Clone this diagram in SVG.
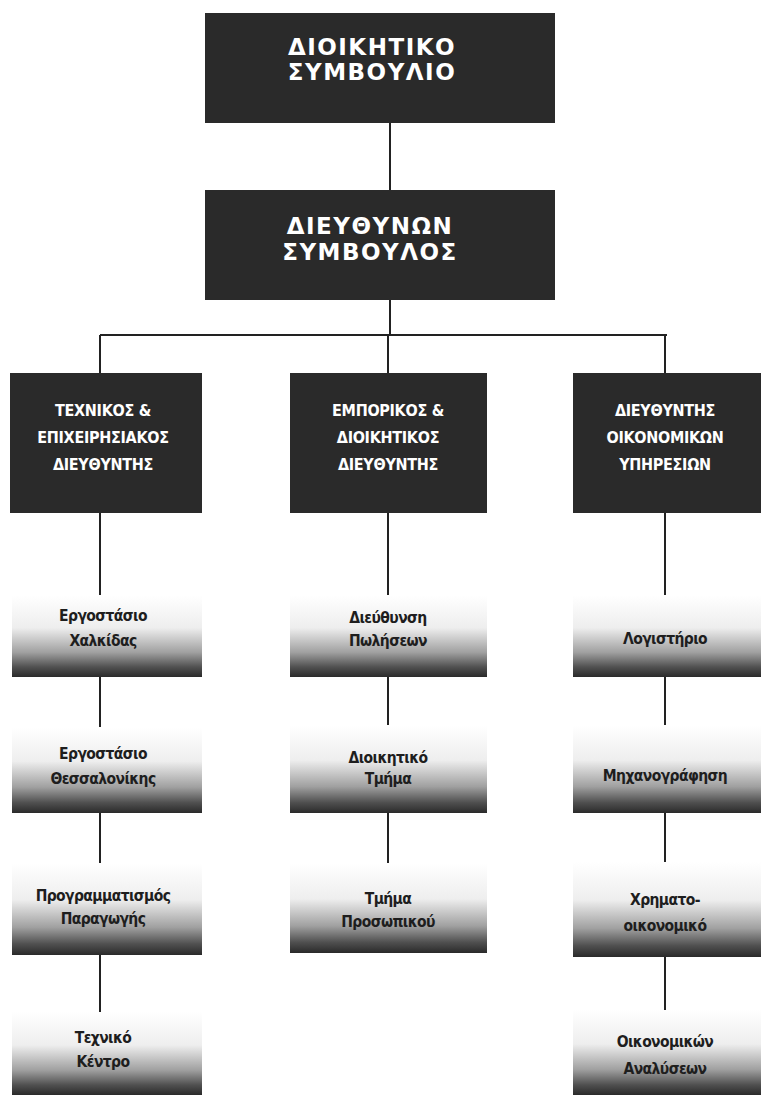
<svg xmlns="http://www.w3.org/2000/svg" width="761" height="1101" viewBox="0 0 761 1101">
<style>
.dark{fill:#2a2a2a}
.top{fill:#fff;font-family:"DejaVu Sans","Liberation Sans",sans-serif;font-weight:bold;font-size:23px;letter-spacing:1.5px;text-anchor:middle}
.mid{fill:#fff;font-family:"DejaVu Sans Condensed","DejaVu Sans","Liberation Sans",sans-serif;font-weight:bold;font-size:16px;letter-spacing:-0.3px;text-anchor:middle}
.low{fill:url(#g)}
.lt{fill:#1e1e1e;font-family:"DejaVu Sans Condensed","DejaVu Sans","Liberation Sans",sans-serif;font-weight:bold;font-size:15.5px;letter-spacing:-0.6px;text-anchor:middle}
.c{stroke:#222;stroke-width:2;fill:none}
</style>
<defs>
<linearGradient id="g" x1="0" y1="0" x2="0" y2="1">
<stop offset="0" stop-color="#ffffff"/>
<stop offset="0.4" stop-color="#eeeeee"/>
<stop offset="0.7" stop-color="#a0a0a0"/>
<stop offset="0.88" stop-color="#505050"/>
<stop offset="1" stop-color="#2a2a2a"/>
</linearGradient>
</defs>
<rect width="761" height="1101" fill="#fff"/>
<g id="connectors" class="c">
<path d="M390 123V190M390 300V335M100 335H667M100 335V373M388 335V373M665 335V373"/>
<path d="M100 512V595M388 512V595M665 512V595"/>
<path d="M100 677V727M100 813V863M100 955V1012"/>
<path d="M388 677V725M388 813V863"/>
<path d="M665 677V725M665 813V862M665 957V1010"/>
</g>
<g id="board"><rect class="dark" x="205" y="13" width="350" height="110"/>
<text class="top" x="372" y="55">ΔΙΟΙΚΗΤΙΚΟ</text><text class="top" x="372" y="80">ΣΥΜΒΟΥΛΙΟ</text></g>
<g id="ceo"><rect class="dark" x="205" y="190" width="350" height="110"/>
<text class="top" x="370" y="234">ΔΙΕΥΘΥΝΩΝ</text><text class="top" x="370" y="260">ΣΥΜΒΟΥΛΟΣ</text></g>
<g id="tech"><rect class="dark" x="10" y="373" width="192" height="140"/>
<text class="mid" x="103" y="416">ΤΕΧΝΙΚΟΣ &amp;</text><text class="mid" x="103" y="443">ΕΠΙΧΕΙΡΗΣΙΑΚΟΣ</text><text class="mid" x="103" y="470">ΔΙΕΥΘΥΝΤΗΣ</text></g>
<g id="comm"><rect class="dark" x="290" y="373" width="197" height="140"/>
<text class="mid" x="388" y="416">ΕΜΠΟΡΙΚΟΣ &amp;</text><text class="mid" x="388" y="443">ΔΙΟΙΚΗΤΙΚΟΣ</text><text class="mid" x="388" y="470">ΔΙΕΥΘΥΝΤΗΣ</text></g>
<g id="fin"><rect class="dark" x="573" y="373" width="188" height="140"/>
<text class="mid" x="665" y="416">ΔΙΕΥΘΥΝΤΗΣ</text><text class="mid" x="665" y="443">ΟΙΚΟΝΟΜΙΚΩΝ</text><text class="mid" x="665" y="470">ΥΠΗΡΕΣΙΩΝ</text></g>
<g id="chalkida"><rect class="low" x="12" y="595" width="190" height="82"/>
<text class="lt" x="103" y="621">Εργοστάσιο</text><text class="lt" x="103" y="646">Χαλκίδας</text></g>
<g id="thessaloniki"><rect class="low" x="12" y="727" width="190" height="86"/>
<text class="lt" x="103" y="759">Εργοστάσιο</text><text class="lt" x="103" y="784">Θεσσαλονίκης</text></g>
<g id="planning"><rect class="low" x="12" y="863" width="190" height="92"/>
<text class="lt" x="103" y="901">Προγραμματισμός</text><text class="lt" x="103" y="924">Παραγωγής</text></g>
<g id="techcenter"><rect class="low" x="12" y="1012" width="190" height="83"/>
<text class="lt" x="103" y="1043">Τεχνικό</text><text class="lt" x="103" y="1067">Κέντρο</text></g>
<g id="sales"><rect class="low" x="290" y="595" width="197" height="82"/>
<text class="lt" x="388" y="623">Διεύθυνση</text><text class="lt" x="388" y="646">Πωλήσεων</text></g>
<g id="admin"><rect class="low" x="290" y="725" width="197" height="88"/>
<text class="lt" x="388" y="763">Διοικητικό</text><text class="lt" x="388" y="784">Τμήμα</text></g>
<g id="personnel"><rect class="low" x="290" y="863" width="197" height="90"/>
<text class="lt" x="388" y="904">Τμήμα</text><text class="lt" x="388" y="927">Προσωπικού</text></g>
<g id="accounting"><rect class="low" x="573" y="595" width="188" height="82"/>
<text class="lt" x="665" y="644">Λογιστήριο</text></g>
<g id="it"><rect class="low" x="573" y="725" width="188" height="88"/>
<text class="lt" x="665" y="781">Μηχανογράφηση</text></g>
<g id="treasury"><rect class="low" x="573" y="862" width="188" height="95"/>
<text class="lt" x="665" y="905">Χρηματο-</text><text class="lt" x="665" y="931">οικονομικό</text></g>
<g id="analysis"><rect class="low" x="573" y="1010" width="188" height="85"/>
<text class="lt" x="665" y="1047">Οικονομικών</text><text class="lt" x="665" y="1074">Αναλύσεων</text></g>
</svg>
